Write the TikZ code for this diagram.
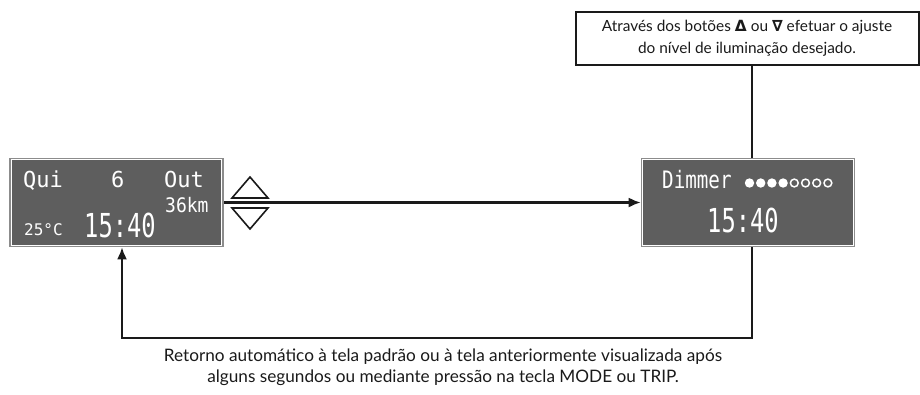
\documentclass[tikz,border=0pt]{standalone}
\usepackage{fontspec}
\usepackage{graphicx}
\setmainfont{Lato}
\newfontfamily\lcdfont{DejaVu Sans Mono}
\newfontfamily\symfont{DejaVu Sans}
\usetikzlibrary{arrows.meta}
\definecolor{lcdfill}{HTML}{5E5E5E}
\definecolor{lcdedge}{HTML}{8C8C8C}
\definecolor{ink}{HTML}{1A1A1A}
\begin{document}
\begin{tikzpicture}[x=1pt,y=-1pt,
  lcd/.style={draw=lcdedge, fill=lcdfill, line width=1.6pt, minimum width=213pt, minimum height=88pt, inner sep=0pt},
  lcdtext/.style={text=white, inner sep=0pt, font=\lcdfont},
  conn/.style={draw=ink, line width=2.1pt},
  tipped/.style={-{Latex[length=12pt,width=10pt]}},
  note/.style={draw=ink, line width=2pt, minimum width=343pt, minimum height=53pt, align=center, text=ink, font=\fontsize{15.4}{22}\selectfont},
  caption/.style={align=center, text=ink, inner sep=0pt, font=\fontsize{17.2}{21}\selectfont},
  updown/.style={draw=ink, fill=white, line width=1.6pt, line join=miter}]
\useasboundingbox (0,0) rectangle (920,394);

% displays
\node[lcd] (disp1) at (116.5,202.5) {};
\node[lcd] (disp2) at (748,202.5) {};
\draw[white, line width=0.8pt] ([shift={(2,2)}]disp1.north west) rectangle ([shift={(-2,-2)}]disp1.south east);
\draw[white, line width=0.8pt] ([shift={(2,2)}]disp2.north west) rectangle ([shift={(-2,-2)}]disp2.south east);

% left display texts
\node[lcdtext, anchor=base west, font=\lcdfont\fontsize{22}{22}\selectfont] (t1) at (23,187) {Qui};
\node[lcdtext, anchor=base west, font=\lcdfont\fontsize{22}{22}\selectfont] (t2) at (111,187) {6};
\node[lcdtext, anchor=base west, font=\lcdfont\fontsize{22}{22}\selectfont] (t3) at (164,187) {Out};
\node[lcdtext, anchor=base west] (t4) at (165,212) {\scalebox{0.9}[1]{\fontsize{20}{20}\selectfont 36km}};
\node[lcdtext, anchor=base west] (t5) at (24,235) {\fontsize{16}{16}\selectfont 25°C};
\node[lcdtext, anchor=base west] (t6) at (84,237) {\scalebox{0.72}[1]{\fontsize{33}{33}\selectfont 15:40}};

% right display texts
\node[lcdtext, anchor=base west] (t7) at (662,188) {\scalebox{0.8}[1]{\fontsize{24}{24}\selectfont Dimmer}};
\foreach \i in {0,...,3} \fill[white] (749.5+11.2*\i,183) circle [radius=4.7pt];
\foreach \i in {4,...,7} \draw[white, line width=1.5pt] (749.5+11.2*\i,183) circle [radius=3.9pt];
\node[lcdtext, anchor=base west] (t8) at (707,232) {\scalebox{0.72}[1]{\fontsize{33}{33}\selectfont 15:40}};

% up / down keys
\draw[updown] (232,198) -- (250,177) -- (268,198) -- cycle;
\draw[updown] (232,208) -- (250,229) -- (268,208) -- cycle;

% note box
\node[note] (note) at (747,38.5) {Através dos botões {\symfont\bfseries Δ} ou {\symfont\bfseries ∇} efetuar o ajuste\\do nível de iluminação desejado.};

% caption
\node[caption] (cap) at (443,367) {Retorno automático à tela padrão ou à tela anteriormente visualizada após\\alguns segundos ou mediante pressão na tecla MODE ou TRIP.};

% connectors
\coordinate (vx) at (752,0);
\coordinate (c1) at (752,338);
\coordinate (c2) at (122,338);
\draw[conn, tipped] (disp1.east) -- (disp2.west);
\draw[conn] (vx |- note.south) -- (vx |- disp2.north);
\draw[conn, tipped, line join=miter] (vx |- disp2.south) -- (c1) -- (c2) -- (c2 |- disp1.south);
\end{tikzpicture}
\end{document}
